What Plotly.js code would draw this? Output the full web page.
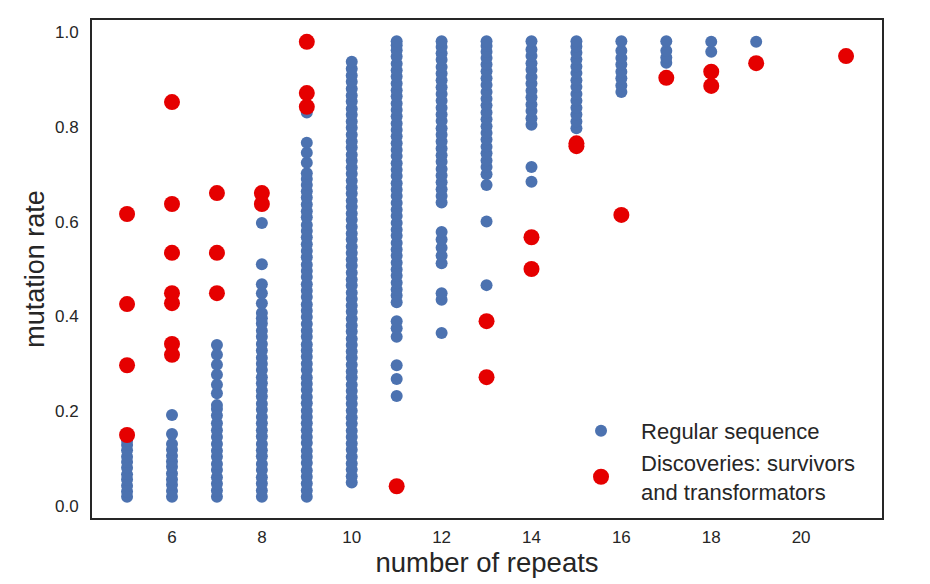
<!DOCTYPE html>
<html>
<head>
<meta charset="utf-8">
<script src="https://cdn.plot.ly/plotly-3.0.1.min.js"></script>
<style>html,body{margin:0;padding:0;background:#fff;}#chart{width:930px;height:584px;}</style>
</head>
<body>
<div id="chart"></div>
<script>
// Regular sequences: mutation rate values per number of repeats
const reg5 = [0.020,0.031,0.043,0.056,0.067,0.081,0.093,0.104,0.118,0.129,0.138];
const reg6 = [0.020,0.032,0.045,0.056,0.069,0.083,0.094,0.106,0.119,0.131,0.152,0.192];
const reg7 = [0.020,0.033,0.047,0.061,0.076,0.089,0.104,0.117,0.131,0.146,0.160,0.175,0.191,0.205,0.213,0.238,0.256,0.277,0.298,0.319,0.340];
const reg8 = [0.020,0.033,0.048,0.061,0.076,0.089,0.105,0.118,0.131,0.147,0.160,0.175,0.188,0.203,0.216,0.231,0.244,0.259,0.272,0.287,0.300,0.313,0.328,0.342,0.357,0.370,0.385,0.396,0.407,0.428,0.449,0.468,0.510,0.597];
const reg9 = [0.020,0.033,0.048,0.062,0.075,0.091,0.104,0.117,0.133,0.146,0.160,0.175,0.188,0.201,0.217,0.230,0.245,0.258,0.271,0.287,0.300,0.315,0.328,0.341,0.357,0.370,0.384,0.399,0.412,0.425,0.441,0.454,0.468,0.483,0.496,0.509,0.525,0.538,0.552,0.567,0.580,0.593,0.609,0.622,0.636,0.651,0.664,0.677,0.690,0.702,0.724,0.745,0.766,0.830];
const reg10 = [0.050,0.063,0.077,0.090,0.104,0.119,0.132,0.146,0.159,0.174,0.187,0.201,0.216,0.229,0.243,0.256,0.271,0.284,0.298,0.313,0.326,0.340,0.353,0.368,0.381,0.395,0.410,0.423,0.437,0.450,0.465,0.478,0.492,0.507,0.520,0.534,0.547,0.562,0.575,0.589,0.604,0.617,0.631,0.644,0.659,0.672,0.686,0.701,0.714,0.728,0.741,0.756,0.769,0.783,0.798,0.811,0.825,0.838,0.853,0.866,0.880,0.895,0.908,0.922,0.937];
const reg11 = [0.232,0.268,0.297,0.357,0.375,0.390,0.430,0.444,0.457,0.471,0.486,0.499,0.513,0.528,0.541,0.555,0.570,0.583,0.597,0.612,0.625,0.639,0.654,0.667,0.681,0.696,0.709,0.723,0.738,0.751,0.765,0.780,0.793,0.807,0.822,0.835,0.849,0.864,0.877,0.891,0.906,0.919,0.933,0.948,0.961,0.972,0.980];
const reg12 = [0.365,0.435,0.449,0.512,0.528,0.545,0.562,0.578,0.640,0.654,0.668,0.683,0.697,0.711,0.726,0.740,0.754,0.769,0.783,0.797,0.812,0.826,0.840,0.855,0.869,0.883,0.898,0.912,0.926,0.941,0.955,0.968,0.980];
const reg13 = [0.466,0.600,0.677,0.700,0.715,0.729,0.744,0.758,0.773,0.787,0.801,0.816,0.830,0.845,0.859,0.873,0.888,0.902,0.917,0.931,0.945,0.958,0.970,0.980];
const reg14 = [0.684,0.715,0.804,0.818,0.833,0.847,0.862,0.876,0.891,0.905,0.920,0.934,0.949,0.963,0.980];
const reg15 = [0.797,0.811,0.826,0.840,0.855,0.869,0.884,0.898,0.913,0.927,0.942,0.956,0.969,0.980];
const reg16 = [0.873,0.887,0.902,0.916,0.931,0.945,0.960,0.980];
const reg17 = [0.935,0.946,0.960,0.980];
const reg18 = [0.958,0.979];
const reg19 = [0.979];
const regColumns = [5,6,7,8,9,10,11,12,13,14,15,16,17,18,19];
const regValues = [reg5,reg6,reg7,reg8,reg9,reg10,reg11,reg12,reg13,reg14,reg15,reg16,reg17,reg18,reg19];

// Discoveries: survivors and transformators
const discRepeats = [5,5,5,5, 6,6,6,6,6,6,6, 7,7,7, 8,8, 9,9,9, 11, 13,13, 14,14, 15,15, 16, 17, 18,18, 19, 21];
const discRates   = [0.616,0.426,0.297,0.150, 0.852,0.637,0.534,0.449,0.428,0.342,0.319, 0.660,0.534,0.449, 0.660,0.637, 0.979,0.871,0.842, 0.042, 0.390,0.272, 0.567,0.500, 0.765,0.759, 0.614, 0.903, 0.916,0.886, 0.934, 0.949];

const xTicks = [6,8,10,12,14,16,18,20];
const yTicks = [0.0,0.2,0.4,0.6,0.8,1.0];

const regX = [], regY = [];
regColumns.forEach((c, i) => { regValues[i].forEach(v => { regX.push(c); regY.push(v); }); });

const font = 'Liberation Sans, Arial, sans-serif';
const ink = '#262626';

const traces = [
  {x: regX, y: regY, type: 'scatter', mode: 'markers', name: 'Regular sequence',
   marker: {color: '#4c72b0', size: 12, line: {width: 0}}, hoverinfo: 'skip'},
  {x: discRepeats, y: discRates, type: 'scatter', mode: 'markers', name: 'Discoveries: survivors<br>and transformators',
   marker: {color: '#e50000', size: 16, line: {width: 0}}, hoverinfo: 'skip'}
];

const layout = {
  width: 930, height: 584,
  margin: {l: 92, r: 48, t: 20, b: 66, pad: 0},
  paper_bgcolor: '#fff', plot_bgcolor: '#fff',
  font: {family: font, color: ink, size: 17},
  showlegend: true,
  legend: {x: 0.5937, xanchor: 'left', y: 0.012, yanchor: 'bottom', bgcolor: 'rgba(0,0,0,0)',
           itemwidth: 70, font: {family: font, size: 22, color: ink}, tracegroupgap: 4},
  xaxis: {range: [4.22, 21.8], tickvals: xTicks, ticktext: xTicks.map(String),
          showgrid: false, zeroline: false, showline: true, mirror: true, linecolor: ink, linewidth: 2,
          ticks: 'outside', ticklen: 3, tickcolor: 'rgba(0,0,0,0)', tickfont: {size: 17, color: ink},
          title: {text: 'number of repeats', font: {size: 27.5, color: ink}, standoff: 6}},
  yaxis: {range: [-0.025, 1.025], tickvals: yTicks, ticktext: yTicks.map(v => v.toFixed(1)),
          showgrid: false, zeroline: false, showline: true, mirror: true, linecolor: ink, linewidth: 2,
          ticks: 'outside', ticklen: 8, tickcolor: 'rgba(0,0,0,0)', tickfont: {size: 17, color: ink},
          title: {text: 'mutation rate', font: {size: 27, color: ink}, standoff: 3}}
};

Plotly.newPlot('chart', traces, layout, {displayModeBar: false, staticPlot: true});
</script>
</body>
</html>
